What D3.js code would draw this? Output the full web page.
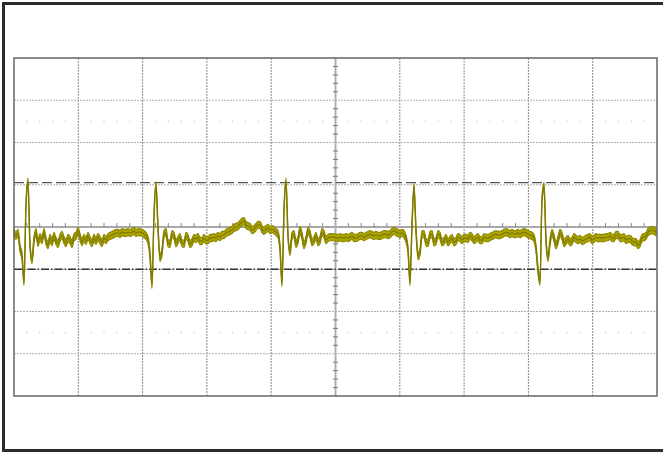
<!DOCTYPE html>
<html>
<head>
<meta charset="utf-8">
<script src="https://cdn.jsdelivr.net/npm/d3@7"></script>
<style>
  html, body { margin: 0; padding: 0; background: #fff; }
  svg { display: block; }
</style>
</head>
<body>
<svg id="chart" width="663" height="452"></svg>
<script>
// ---- Data (vertical values in divisions, 0 = screen centre) ----
const timeDivisions = [0, 10];          // horizontal span in divisions
const voltDivisions = [-4, 4];          // vertical span in divisions
const cursorUpper = 1.05;               // dashed cursor level (div)
const cursorLower = -1.00;              // dash-dot cursor level (div)
const dotRows = [2.5, -2.5];            // rows of graticule dots (div)
const noiseHalfBand = 0.085;            // half-width of the noise band (div)

// acquired samples, equally spaced over the 10 divisions
const samples = [
 -0.14,-0.21,-0.14,-0.50,-0.69,-1.30,0.52,1.07,-0.43,-0.78,
 -0.31,-0.12,-0.38,-0.24,-0.31,-0.12,-0.33,-0.43,-0.26,-0.36,
 -0.21,-0.33,-0.40,-0.26,-0.19,-0.31,-0.38,-0.26,-0.31,-0.40,
 -0.24,-0.21,-0.09,-0.24,-0.36,-0.26,-0.33,-0.21,-0.31,-0.38,
 -0.26,-0.33,-0.24,-0.31,-0.38,-0.26,-0.31,-0.24,-0.21,-0.19,
 -0.17,-0.14,-0.14,-0.17,-0.12,-0.14,-0.14,-0.12,-0.14,-0.12,
 -0.09,-0.14,-0.12,-0.12,-0.14,-0.17,-0.21,-0.31,-0.66,-1.37,
 0.28,0.99,-0.02,-0.73,-0.59,-0.17,-0.12,-0.38,-0.40,-0.17,
 -0.21,-0.38,-0.31,-0.24,-0.38,-0.40,-0.21,-0.26,-0.40,-0.36,
 -0.26,-0.28,-0.24,-0.33,-0.33,-0.26,-0.31,-0.31,-0.26,-0.26,
 -0.24,-0.26,-0.21,-0.24,-0.19,-0.19,-0.14,-0.12,-0.09,-0.07,
 -0.02,0.00,0.02,0.07,0.12,0.14,0.05,0.02,0.00,-0.07,
 -0.05,0.00,0.05,0.05,-0.05,-0.09,-0.05,-0.02,-0.07,-0.05,
 -0.07,-0.12,-0.17,-0.50,-1.33,0.40,1.07,-0.19,-0.59,-0.21,
 -0.17,-0.40,-0.31,-0.07,-0.21,-0.43,-0.31,-0.09,-0.17,-0.36,
 -0.31,-0.21,-0.36,-0.31,-0.12,-0.17,-0.31,-0.26,-0.24,-0.24,
 -0.24,-0.26,-0.26,-0.24,-0.26,-0.26,-0.24,-0.26,-0.24,-0.21,
 -0.26,-0.26,-0.24,-0.21,-0.21,-0.24,-0.21,-0.19,-0.17,-0.19,
 -0.21,-0.19,-0.21,-0.21,-0.19,-0.17,-0.17,-0.19,-0.17,-0.12,
 -0.09,-0.12,-0.14,-0.17,-0.14,-0.17,-0.28,-0.54,-1.30,0.05,
 0.95,-0.07,-0.69,-0.59,-0.17,-0.17,-0.36,-0.38,-0.19,-0.17,
 -0.36,-0.33,-0.17,-0.21,-0.36,-0.33,-0.26,-0.36,-0.31,-0.26,
 -0.36,-0.33,-0.24,-0.26,-0.31,-0.26,-0.26,-0.28,-0.21,-0.24,
 -0.31,-0.28,-0.24,-0.31,-0.31,-0.24,-0.26,-0.26,-0.24,-0.21,
 -0.19,-0.17,-0.19,-0.19,-0.17,-0.14,-0.12,-0.14,-0.17,-0.14,
 -0.17,-0.17,-0.14,-0.17,-0.14,-0.12,-0.14,-0.17,-0.19,-0.21,
 -0.26,-0.50,-1.02,-1.30,0.64,0.97,-0.31,-0.73,-0.36,-0.14,
 -0.26,-0.43,-0.31,-0.14,-0.21,-0.38,-0.33,-0.28,-0.36,-0.33,
 -0.24,-0.28,-0.31,-0.28,-0.33,-0.31,-0.28,-0.26,-0.24,-0.31,
 -0.28,-0.24,-0.26,-0.26,-0.26,-0.26,-0.24,-0.24,-0.21,-0.26,
 -0.26,-0.19,-0.19,-0.26,-0.26,-0.24,-0.31,-0.28,-0.28,-0.33,
 -0.36,-0.36,-0.43,-0.38,-0.26,-0.24,-0.21,-0.12,-0.09,-0.07,
 -0.09,-0.12
];

// ---- Drawing ----
const svg = d3.select("#chart");
const x = d3.scaleLinear().domain(timeDivisions).range([14, 657]);
const y = d3.scaleLinear().domain(voltDivisions).range([396, 58]);
const sampleTime = d3.scaleLinear().domain([0, samples.length - 1]).range([0, 10 * 642 / 643]);

// outer frame (open on the right)
svg.append("path")
  .attr("d", "M663,3.5H3.5V450.5H663")
  .attr("fill", "none").attr("stroke", "#2b2b2b").attr("stroke-width", 3);

const g = svg.append("g");

// graticule grid
const vDivs = d3.range(1, 10).filter(d => d !== 5);
const hDivs = d3.range(-3, 4).filter(d => d !== 0);
g.selectAll("line.vg").data(vDivs).join("line")
  .attr("x1", d => x(d)).attr("x2", d => x(d))
  .attr("y1", y(4)).attr("y2", y(-4))
  .attr("stroke", "#8a8a8a").attr("stroke-width", 1).attr("stroke-dasharray", "2,1");
g.selectAll("line.hg").data(hDivs).join("line")
  .attr("x1", x(0)).attr("x2", x(10))
  .attr("y1", d => y(d)).attr("y2", d => y(d))
  .attr("stroke", "#b0b0b0").attr("stroke-width", 1).attr("stroke-dasharray", "2,1");

// dot rows
const dotX = d3.range(0, 50).filter(i => i % 5 !== 0).map(i => i / 5);
dotRows.forEach(r => {
  g.selectAll(null).data(dotX).join("rect")
    .attr("x", d => x(d) - 0.5).attr("y", y(r) - 0.5)
    .attr("width", 1).attr("height", 1).attr("fill", "#aaaaaa");
});

// centre axes
g.append("line").attr("x1", x(0)).attr("x2", x(10)).attr("y1", y(0)).attr("y2", y(0))
  .attr("stroke", "#a8a8a8").attr("stroke-width", 2);
g.append("line").attr("x1", x(5)).attr("x2", x(5)).attr("y1", y(4)).attr("y2", y(-4))
  .attr("stroke", "#b0b0b0").attr("stroke-width", 2);

const hTicks = d3.range(1, 50).filter(i => i % 5 !== 0).map(i => i / 5);
g.selectAll("line.ht").data(hTicks).join("line")
  .attr("x1", d => x(d)).attr("x2", d => x(d))
  .attr("y1", y(0) - 4).attr("y2", y(0))
  .attr("stroke", "#888").attr("stroke-width", 1);
const vTicks = d3.range(-19, 20).filter(i => i % 5 !== 0).map(i => i / 5);
g.selectAll("line.vt").data(vTicks).join("line")
  .attr("x1", x(5) - 2.5).attr("x2", x(5) + 2.5)
  .attr("y1", d => y(d)).attr("y2", d => y(d))
  .attr("stroke", "#777").attr("stroke-width", 1);

// cursors
g.append("line").attr("x1", x(0)).attr("x2", x(10))
  .attr("y1", y(cursorUpper)).attr("y2", y(cursorUpper))
  .attr("stroke", "#555").attr("stroke-width", 1.4).attr("stroke-dasharray", "10,4");
g.append("line").attr("x1", x(0)).attr("x2", x(10))
  .attr("y1", y(cursorLower)).attr("y2", y(cursorLower))
  .attr("stroke", "#333").attr("stroke-width", 1.3).attr("stroke-dasharray", "8,2,1.5,2");

// trace: noise band (area) + centre line
const band = d3.area()
  .curve(d3.curveMonotoneX)
  .x((d, i) => x(sampleTime(i)))
  .y0(d => y(d - noiseHalfBand))
  .y1(d => y(d + noiseHalfBand));
g.append("path").datum(samples).attr("d", band)
  .attr("fill", "#aca400").attr("stroke", "#8f8900").attr("stroke-width", 1.2)
  .attr("stroke-linejoin", "round");
const line = d3.line().curve(d3.curveMonotoneX)
  .x((d, i) => x(sampleTime(i))).y(d => y(d));
g.append("path").datum(samples).attr("d", line)
  .attr("fill", "none").attr("stroke", "#807a00").attr("stroke-width", 1.3)
  .attr("stroke-linejoin", "round");

// plot border
svg.append("rect").attr("x", x(0)).attr("y", y(4))
  .attr("width", x(10) - x(0)).attr("height", y(-4) - y(4))
  .attr("fill", "none").attr("stroke", "#666").attr("stroke-width", 1.5);
</script>
</body>
</html>
